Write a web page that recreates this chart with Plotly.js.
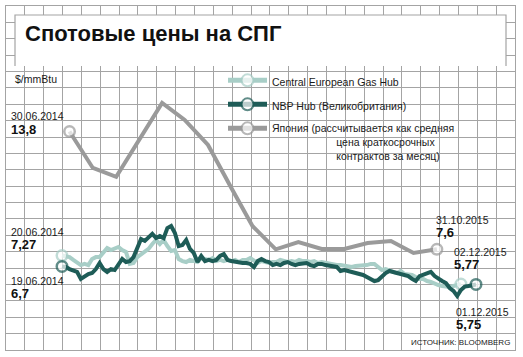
<!DOCTYPE html>
<html>
<head>
<meta charset="utf-8">
<script src="https://cdn.plot.ly/plotly-3.0.1.min.js"></script>
<style>html,body{margin:0;padding:0;background:#fff;}#chart{width:523px;height:357px;}</style>
</head>
<body>
<div id="chart"></div>
<script>
// ---- Data ----
const NB = '\u00a0'.repeat(22);
const seriesNames = ['Central European Gas Hub', 'NBP Hub (Великобритания)',
  'Япония (рассчитывается как средняя<br>' + NB + 'цена краткосрочных<br>' + NB + 'контрактов за месяц)'];

// daily hubs, sampled every 5 days from 20.06.2014
const hubStart = '2014-06-20';
const hubStepDays = 5;
const ceghValues = [
 7.27,7.25,7.19,7.04,6.88,6.77,6.83,6.77,7.09,7.19,
 7.19,7.46,7.67,7.56,7.67,7.72,7.56,7.46,6.83,6.88,
 7.19,7.35,7.46,7.62,7.88,8.09,7.88,8.09,7.77,7.51,
 7.56,7.09,6.98,6.93,7.04,6.98,6.93,7.14,7.09,7.04,
 7.14,6.98,7.04,6.98,7.04,6.98,7.04,6.93,7.04,7.04,
 7.14,6.98,6.88,6.98,6.93,6.88,6.93,6.93,7.04,6.98,
 6.93,6.98,6.93,7.04,6.98,6.98,6.93,6.98,6.88,6.93,
 6.88,6.88,6.83,6.77,6.77,6.72,6.72,6.67,6.72,6.72,
 6.77,6.77,6.83,6.83,6.67,6.51,6.56,6.51,6.41,6.35,
 6.46,6.30,6.25,6.25,6.14,6.04,6.04,5.93,5.88,5.77,
 5.72,5.67,5.62,5.62,5.67,5.72,5.77];
const nbpValues = [
 6.70,6.67,6.56,6.51,6.41,6.04,6.19,6.30,6.35,6.56,
 6.88,6.56,6.41,6.56,6.51,6.83,7.09,6.93,6.98,7.19,
 7.72,8.14,8.04,8.25,8.41,8.19,8.30,8.19,8.72,8.83,
 8.46,7.77,7.83,8.09,7.62,7.41,6.93,7.25,6.98,7.04,
 6.98,7.04,7.25,7.35,7.04,6.98,6.93,6.93,6.88,6.88,
 6.83,6.67,6.98,7.09,6.98,6.93,6.77,6.83,6.77,6.88,
 6.93,6.83,6.77,6.83,6.83,6.88,6.77,6.72,6.83,6.83,
 6.77,6.72,6.72,6.67,6.46,6.51,6.46,6.41,6.35,6.30,
 6.25,6.14,6.04,5.93,5.98,6.19,6.35,6.46,6.41,6.35,
 6.30,6.25,6.19,6.04,5.93,6.19,6.25,6.30,6.41,6.19,
 6.04,5.93,5.82,5.56,5.41,5.14,5.46,5.64,5.67,5.69,5.75];

// Japan, monthly
const japanDates = ['2014-06-30','2014-07-31','2014-08-31','2014-09-30','2014-10-31','2014-11-30',
  '2014-12-31','2015-01-31','2015-02-28','2015-03-31','2015-04-30','2015-05-31','2015-06-30',
  '2015-07-31','2015-08-31','2015-09-30','2015-10-31'];
const japanValues = [13.8,11.88,11.41,13.35,15.30,14.41,13.09,10.83,8.83,7.6,7.98,7.62,7.62,7.93,8.04,7.41,7.6];

// annotation texts
const labelDates = ['30.06.2014','20.06.2014','19.06.2014','31.10.2015','02.12.2015','01.12.2015'];
const labelValues = ['13,8','7,27','6,7','7,6','5,77','5,75'];
const unitLabel = '$/mmBtu';
const sourceLabel = 'ИСТОЧНИК: BLOOMBERG';
const titleText = 'Спотовые цены на СПГ';

// background grid: 27 x 21 cells
const gridCols = 27, gridRows = 21;

// ---- helpers ----
function hubDates(n) {
  const t0 = Date.parse(hubStart + 'T00:00:00Z');
  const out = [];
  for (let i = 0; i < n; i++) out.push(new Date(t0 + i * hubStepDays * 86400000).toISOString().slice(0, 10));
  return out;
}
function endSizes(n, s) { const a = new Array(n).fill(0); a[0] = s; a[n - 1] = s; return a; }

const C_CEGH = '#a8cec7', C_NBP = '#1e5c57', C_JP = '#9a9a9a', GRID = '#a4a4a4';
const FONT = 'Liberation Sans, Arial, sans-serif';

const traces = [
  // invisible anchor so the grid subplot is created
  {x: [0], y: [0], type: 'scatter', mode: 'markers', marker: {opacity: 0}, showlegend: false,
   hoverinfo: 'skip', xaxis: 'x', yaxis: 'y'},
  {x: hubDates(ceghValues.length), y: ceghValues, name: seriesNames[0], legendgroup: 'a',
   type: 'scatter', mode: 'lines+markers', xaxis: 'x2', yaxis: 'y2',
   line: {color: C_CEGH, width: 4},
   marker: {size: endSizes(ceghValues.length, 10.5), color: '#fff', line: {color: C_CEGH, width: 2.5}}},
  {x: hubDates(nbpValues.length), y: nbpValues, name: seriesNames[1], legendgroup: 'b',
   type: 'scatter', mode: 'lines+markers', xaxis: 'x2', yaxis: 'y2',
   line: {color: C_NBP, width: 4},
   marker: {size: endSizes(nbpValues.length, 10.5), color: '#fff', line: {color: C_NBP, width: 2.5}}},
  {x: japanDates, y: japanValues, name: seriesNames[2], legendgroup: 'c',
   type: 'scatter', mode: 'lines+markers', xaxis: 'x2', yaxis: 'y2',
   line: {color: C_JP, width: 4},
   marker: {size: endSizes(japanValues.length, 10.5), color: '#fff', line: {color: C_JP, width: 2.5}}}
];

// pixel helpers for paper-positioned decorations/text
const L = 6, R = 515, T = 6, B = 350;
const px = v => (v - L) / (R - L);
const py = v => (B - v) / (B - T);

function ann(text, x, y, opts) {
  return Object.assign({text: text, x: px(x), y: py(y), xref: 'paper', yref: 'paper',
    xanchor: 'left', yanchor: 'middle', showarrow: false, borderpad: 0,
    font: {family: FONT, size: 10.5, color: '#1a1a1a'}}, opts || {});
}
const bold = {font: {family: FONT, size: 13, color: '#111', weight: 'bold'}};

const annotations = [
  ann(unitLabel, 14, 79),
  ann(labelDates[0], 10, 116), ann(labelValues[0], 10, 129, bold),
  ann(labelDates[1], 10, 232), ann(labelValues[1], 10, 244, bold),
  ann(labelDates[2], 10, 281), ann(labelValues[2], 10, 293, bold),
  ann(labelDates[3], 435, 220), ann(labelValues[3], 435, 232, bold),
  ann(labelDates[4], 453, 252), ann(labelValues[4], 453, 264, bold),
  ann(labelDates[5], 455, 312), ann(labelValues[5], 455, 324, bold),
  ann(sourceLabel, 511, 342, {xanchor: 'right', font: {family: FONT, size: 8, color: '#1a1a1a'}})
];

const boxL = px(15), boxR = px(506), boxT = py(15), boxB = py(66);
const shapes = [
  {type: 'rect', xref: 'paper', yref: 'paper', x0: boxL, x1: boxR, y0: boxB, y1: boxT,
   fillcolor: '#ffffff', line: {width: 0}, layer: 'above'},
  {type: 'path', xref: 'paper', yref: 'paper', layer: 'above',
   path: `M${boxL},${boxB} L${boxL},${boxT} L${boxR},${boxT} L${boxR},${boxB}`,
   line: {color: GRID, width: 1.2}}
];

const layout = {
  width: 523, height: 357,
  margin: {l: L, r: 523 - R, t: T, b: 357 - B, pad: 0},
  paper_bgcolor: '#fff', plot_bgcolor: '#fff',
  showlegend: true,
  title: {text: '<b>' + titleText + '</b>', xref: 'container', yref: 'container',
          x: 25 / 523, xanchor: 'left', y: 1 - 33 / 357, yanchor: 'middle',
          font: {family: FONT, size: 22, color: '#111'}},
  xaxis: {range: [0, gridCols], dtick: 1, tick0: 0, showgrid: true, gridcolor: GRID, gridwidth: 1,
          zeroline: false, showticklabels: false, ticks: '', showline: true, mirror: true,
          linecolor: GRID, linewidth: 1.2, fixedrange: true},
  yaxis: {range: [0, gridRows], dtick: 1, tick0: 0, showgrid: true, gridcolor: GRID, gridwidth: 1,
          zeroline: false, showticklabels: false, ticks: '', showline: true, mirror: true,
          linecolor: GRID, linewidth: 1.2, fixedrange: true},
  xaxis2: {type: 'date', overlaying: 'x', anchor: 'y2', range: ['2014-04-06 14:38', '2016-02-11 19:26'],
           visible: false, fixedrange: true},
  yaxis2: {overlaying: 'y', anchor: 'x2', range: [2.3, 20.405], visible: false, fixedrange: true},
  legend: {x: px(223), y: py(67), xanchor: 'left', yanchor: 'top', bgcolor: 'rgba(0,0,0,0)',
           borderwidth: 0, font: {family: FONT, size: 10.5, color: '#1a1a1a'},
           itemsizing: 'constant', itemwidth: 39, valign: 'top', traceorder: 'grouped',
           tracegroupgap: 5},
  annotations: annotations,
  shapes: shapes
};

Plotly.newPlot('chart', traces, layout, {displayModeBar: false, staticPlot: true});
</script>
</body>
</html>
